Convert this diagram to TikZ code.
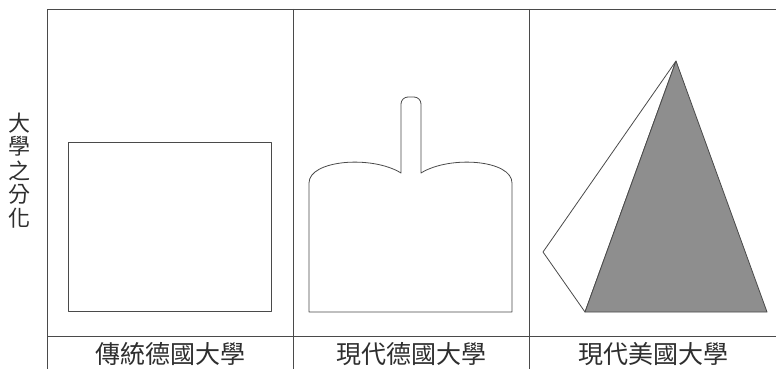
\documentclass[tikz,border=0pt]{standalone}
\usepackage{fontspec}
\newfontfamily\cjk{Noto Sans CJK TC}
\definecolor{linegray}{HTML}{4A4A4A}
\definecolor{fillgray}{HTML}{8E8E8E}
\definecolor{textgray}{HTML}{2E2E2E}
\tikzset{
  frameline/.style={draw=linegray, line width=0.9pt},
  outline/.style={draw=linegray, line width=0.8pt, line join=round},
  cjklabel/.style={font=\cjk\fontsize{22}{22}\selectfont, text=textgray, inner sep=0pt},
  collabel/.style={font=\cjk\fontsize{25}{25}\selectfont, text=textgray, inner sep=0pt},
}
\begin{document}
\begin{tikzpicture}[x=1pt, y=-1pt]
\useasboundingbox (0,0) rectangle (776,369);
\fill[white] (0,0) rectangle (776,369);
% frame
\draw[frameline] (47,369) -- (47,9) -- (776,9);
\draw[frameline] (293,9) -- (293,369);
\draw[frameline] (529,9) -- (529,369);
\draw[frameline] (47,336) -- (776,336);
% column 1: rectangle
\draw[outline] (68,142) rectangle (271,311);
% column 2: shape with stem
\draw[outline] (309,312) -- (309,183)
  .. controls (309,160) and (372,155) .. (401,173)
  [rounded corners=7pt] -- (401,97) -- (421,97) [sharp corners] -- (421,173)
  .. controls (450,155) and (512,160) .. (512,183)
  -- (512,312) -- cycle;
% column 3: pyramid
\draw[outline, fill=white] (676,61) -- (543,252) -- (585,312) -- cycle;
\draw[outline, fill=fillgray] (676,61) -- (585,312) -- (767,312) -- cycle;
% labels
\node[cjklabel] (side) at (20,173) {\begin{tabular}{@{}c@{}}大\\[-1pt]學\\[-1pt]之\\[-1pt]分\\[-1pt]化\end{tabular}};
\node[collabel] (c1) at (170,354) {傳統德國大學};
\node[collabel] (c2) at (411,354) {現代德國大學};
\node[collabel] (c3) at (653,354) {現代美國大學};
\end{tikzpicture}
\end{document}
